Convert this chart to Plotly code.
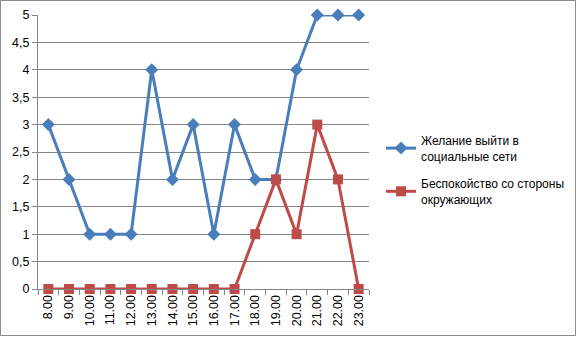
import plotly.graph_objects as go

hours = ["8.00", "9.00", "10.00", "11.00", "12.00", "13.00", "14.00", "15.00",
         "16.00", "17.00", "18.00", "19.00", "20.00", "21.00", "22.00", "23.00"]
desire = [3, 2, 1, 1, 1, 4, 2, 3, 1, 3, 2, 2, 4, 5, 5, 5]
worry = [0, 0, 0, 0, 0, 0, 0, 0, 0, 0, 1, 2, 1, 3, 2, 0]
name_desire = "Желание выйти в<br>социальные сети"
name_worry = "Беспокойство со стороны<br>окружающих"
y_ticks = [0, 0.5, 1, 1.5, 2, 2.5, 3, 3.5, 4, 4.5, 5]

fig = go.Figure()
fig.add_trace(go.Scatter(x=hours, y=desire, name=name_desire, mode="lines+markers",
                         legendgroup="a",
                         line=dict(color="#4A7EBB", width=3),
                         marker=dict(symbol="diamond", size=10, color="#4A7EBB"),
                         cliponaxis=False))
fig.add_trace(go.Scatter(x=hours, y=worry, name=name_worry, mode="lines+markers",
                         legendgroup="b",
                         line=dict(color="#BE4B48", width=3),
                         marker=dict(symbol="square", size=10, color="#BE4B48"),
                         cliponaxis=False))

W, H = 577, 337
ml, mr, mt, mb = 38, 208, 15, 48
pw, ph = W - ml - mr, H - mt - mb

fig.update_layout(
    width=W, height=H,
    margin=dict(l=ml, r=mr, t=mt, b=mb, autoexpand=False),
    paper_bgcolor="white", plot_bgcolor="white",
    separators=", ",
    font=dict(family="Liberation Sans, Arial, sans-serif", size=12, color="#000000"),
    showlegend=True,
    legend=dict(x=(381 - ml) / pw, y=(289 - 126) / ph, xanchor="left", yanchor="top",
                font=dict(size=12), tracegroupgap=9, bgcolor="rgba(0,0,0,0)"),
    shapes=[dict(type="rect", xref="paper", yref="paper",
                 x0=(0.5 - ml) / pw, x1=(W - 1.5 - ml) / pw,
                 y0=-(mb - 1.5) / ph, y1=1 + (mt - 0.5) / ph,
                 line=dict(color="#8C8C8C", width=1), layer="below")],
)
fig.update_xaxes(type="category", range=[-0.5, 15.5], tickangle=-90,
                 showgrid=False, showline=True, linecolor="#868686", linewidth=1,
                 ticks="outside", tickson="boundaries", ticklen=5, tickcolor="#868686",
                 tickfont=dict(size=12.5))
fig.update_yaxes(range=[0, 5], tickvals=y_ticks, showgrid=True, gridcolor="#868686",
                 gridwidth=1, showline=True, linecolor="#868686", linewidth=1,
                 ticks="outside", ticklen=5, tickcolor="#868686", zeroline=False,
                 tickfont=dict(size=12.5))

fig.write_html("out.html", config={"displayModeBar": False},
               post_script="document.body.style.margin='0';document.body.style.padding='0';")
